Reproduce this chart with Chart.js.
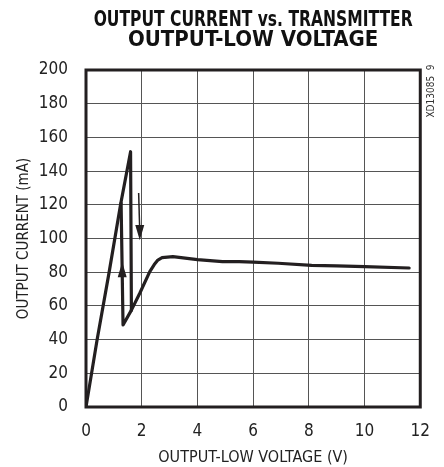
<!DOCTYPE html>
<html>
<head>
<meta charset="utf-8">
<script src="https://cdn.jsdelivr.net/npm/chart.js@4.4.0/dist/chart.umd.min.js"></script>
<style>
  html, body { margin: 0; padding: 0; background: #fff; }
  #wrap { width: 444px; height: 467px; }
</style>
</head>
<body>
<div id="wrap"><canvas id="chart"></canvas></div>
<script>
// rising branch: origin up to the peak, then straight drop
const riseV = [0, 0.4, 0.82, 1.24, 1.6, 1.63];
const riseI = [0, 40, 79, 120, 151.5, 57.5];

// left vertical of the loop (up-arrow side)
const leftV = [1.26, 1.33, 1.63];
const leftI = [121, 48.7, 57.5];

// settling curve to the plateau
const settleV = [1.63, 1.93, 2.29, 2.45, 2.58, 2.73, 3.12, 4.0, 4.9, 5.5, 6.0, 6.9, 8.1, 9.0, 10.0, 11.6];
const settleI = [57.5, 67.5, 80.3, 84.5, 87.2, 88.6, 89.2, 87.5, 86.3, 86.3, 86.0, 85.3, 84.1, 83.8, 83.3, 82.5];

// arrows: [x, yTip, yBase]
const upArrow = [1.30, 86, 77];
const downArrow = [1.93, 99, 108];
const downShaft = [[1.89, 127], [1.93, 104]];

const xTicks = [0, 2, 4, 6, 8, 10, 12];
const yTicks = [0, 20, 40, 60, 80, 100, 120, 140, 160, 180, 200];

const titleLines = ['OUTPUT CURRENT vs. TRANSMITTER', 'OUTPUT-LOW VOLTAGE'];
const sideNote = 'XD13085  9';

const INK = '#231f20';
const NARROW = '"Liberation Sans Narrow", "DejaVu Sans Condensed", sans-serif';

function toPoints(xs, ys) {
    return xs.map((x, i) => ({ x: x, y: ys[i] }));
}

function lineSet(xs, ys) {
    return {
        data: toPoints(xs, ys),
        showLine: true,
        borderColor: INK,
        borderWidth: 3.2,
        pointRadius: 0,
        tension: 0,
        borderJoinStyle: 'round',
        borderCapStyle: 'round'
    };
}

function arrowHead(ctx, px, tip, base) {
    ctx.beginPath();
    ctx.moveTo(px, tip);
    ctx.lineTo(px - 4.5, base);
    ctx.lineTo(px + 4.5, base);
    ctx.closePath();
    ctx.fill();
}

// arrows, frame, title and side note
const extras = {
    id: 'extras',
    afterDatasetsDraw(chart) {
        const ctx = chart.ctx;
        const xs = chart.scales.x;
        const ys = chart.scales.y;
        const a = chart.chartArea;
        ctx.save();
        ctx.fillStyle = INK;
        ctx.strokeStyle = INK;

        arrowHead(ctx, xs.getPixelForValue(upArrow[0]),
            ys.getPixelForValue(upArrow[1]), ys.getPixelForValue(upArrow[2]));

        ctx.lineWidth = 1.5;
        ctx.beginPath();
        ctx.moveTo(xs.getPixelForValue(downShaft[0][0]), ys.getPixelForValue(downShaft[0][1]));
        ctx.lineTo(xs.getPixelForValue(downShaft[1][0]), ys.getPixelForValue(downShaft[1][1]));
        ctx.stroke();

        arrowHead(ctx, xs.getPixelForValue(downArrow[0]),
            ys.getPixelForValue(downArrow[1]), ys.getPixelForValue(downArrow[2]));

        // heavy frame
        ctx.lineWidth = 3;
        ctx.strokeRect(a.left, a.top, a.right - a.left, a.bottom - a.top);

        // title, squeezed to the condensed width of the original
        const cx = (a.left + a.right) / 2;
        ctx.fillStyle = '#111';
        ctx.font = 'bold 22px "DejaVu Sans Condensed", sans-serif';
        ctx.textAlign = 'center';
        ctx.textBaseline = 'middle';
        ctx.fillText(titleLines[0], cx, 20, 319);
        ctx.fillText(titleLines[1], cx, 40, 252);

        // side note
        ctx.translate(a.right + 11, a.top + 21);
        ctx.rotate(-Math.PI / 2);
        ctx.font = '10px ' + NARROW;
        ctx.fillStyle = '#333';
        ctx.fillText(sideNote, 0, 0);
        ctx.restore();
    }
};

new Chart(document.getElementById('chart'), {
    type: 'scatter',
    data: {
        datasets: [
            lineSet(riseV, riseI),
            lineSet(leftV, leftI),
            lineSet(settleV, settleI)
        ]
    },
    options: {
        responsive: true,
        maintainAspectRatio: false,
        animation: false,
        layout: { padding: { left: 0, right: 18, top: 70, bottom: 0 } },
        plugins: {
            legend: { display: false },
            tooltip: { enabled: false },
            title: { display: false }
        },
        scales: {
            x: {
                type: 'linear',
                min: 0,
                max: 12,
                afterFit: s => { s.height = 60; },
                afterBuildTicks: s => { s.ticks = xTicks.map(v => ({ value: v })); },
                grid: { color: '#555', lineWidth: 1, drawTicks: false },
                border: { display: false },
                ticks: { color: '#222', padding: 14, font: { family: NARROW, size: 17 } },
                title: {
                    display: true,
                    text: 'OUTPUT-LOW VOLTAGE (V)',
                    color: '#222',
                    font: { family: NARROW, size: 16 },
                    padding: { top: 4, bottom: 0 }
                }
            },
            y: {
                type: 'linear',
                min: 0,
                max: 200,
                afterFit: s => { s.width = 86; },
                afterBuildTicks: s => { s.ticks = yTicks.map(v => ({ value: v })); },
                grid: { color: '#555', lineWidth: 1, drawTicks: false },
                border: { display: false },
                ticks: { color: '#222', padding: 18, font: { family: NARROW, size: 17 } },
                title: {
                    display: true,
                    text: 'OUTPUT CURRENT (mA)',
                    color: '#222',
                    font: { family: NARROW, size: 15 },
                    padding: { top: 15, bottom: 0 }
                }
            }
        }
    },
    plugins: [extras]
});
</script>
</body>
</html>
